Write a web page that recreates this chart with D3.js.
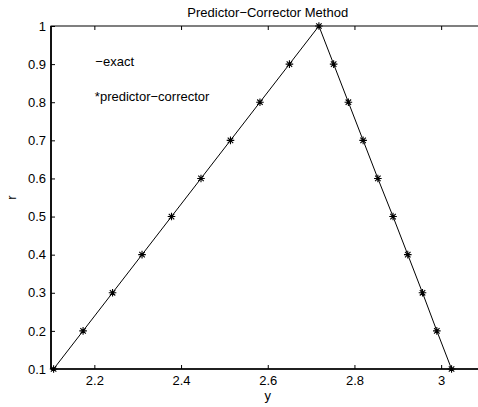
<!DOCTYPE html>
<html>
<head>
    <meta charset="utf-8" />
    <title></title>
    <style>
        body { margin: 0; background: #fff; }
        text {
            font-family: "Liberation Sans", Arial, sans-serif;
            font-size: 13px;
            fill: #000;
        }
        .axis path, .axis line { stroke: #000; }
    </style>
</head>
<body>
    <script src="https://d3js.org/d3.v7.min.js"></script>
    <script>
      // r values (vertical) and the matching y values on both sides of the peak
      var rValues = [0.1, 0.2, 0.3, 0.4, 0.5, 0.6, 0.7, 0.8, 0.9, 1.0, 0.9, 0.8, 0.7, 0.6, 0.5, 0.4, 0.3, 0.2, 0.1];
      var exactY = [2.106, 2.174, 2.242, 2.310, 2.378, 2.446, 2.514, 2.582, 2.650, 2.718,
                    2.752, 2.786, 2.820, 2.854, 2.889, 2.923, 2.957, 2.990, 3.024];
      var pcY    = [2.106, 2.174, 2.242, 2.310, 2.378, 2.446, 2.514, 2.582, 2.650, 2.718,
                    2.752, 2.786, 2.820, 2.854, 2.889, 2.923, 2.957, 2.990, 3.024];
      var xTicks = [2.2, 2.4, 2.6, 2.8, 3];
      var yTicks = [0.1, 0.2, 0.3, 0.4, 0.5, 0.6, 0.7, 0.8, 0.9, 1];

      var width = 478, height = 407;
      var plotL = 51, plotT = 26, plotR = 484.5, plotB = 369;

      var svg = d3.select("body").append("svg")
          .attr("width", width)
          .attr("height", height);

      var x = d3.scaleLinear().domain([2.1, 3.1]).range([plotL, plotR]);
      var y = d3.scaleLinear().domain([0.1, 1]).range([plotB, plotT]);

      var exact = rValues.map(function(r, i) { return {x: exactY[i], r: r}; });
      var pc = rValues.map(function(r, i) { return {x: pcY[i], r: r}; });

      // frame
      svg.append("rect")
          .attr("x", plotL).attr("y", plotT)
          .attr("width", plotR - plotL).attr("height", plotB - plotT)
          .attr("fill", "none").attr("stroke", "#000").attr("stroke-width", 1);

      var fmt = function(d) { return d3.format("")(+d.toFixed(1)); };

      svg.append("g").attr("class", "axis")
          .attr("transform", "translate(0," + plotB + ")")
          .call(d3.axisBottom(x).tickValues(xTicks).tickSize(-4).tickPadding(7).tickFormat(fmt))
          .call(function(g) { g.select(".domain").remove(); });

      svg.append("g").attr("class", "axis")
          .attr("transform", "translate(0," + plotT + ")")
          .call(d3.axisTop(x).tickValues(xTicks).tickSize(-4).tickFormat(""))
          .call(function(g) { g.select(".domain").remove(); });

      svg.append("g").attr("class", "axis")
          .attr("transform", "translate(" + plotL + ",0)")
          .call(d3.axisLeft(y).tickValues(yTicks).tickSize(-4).tickPadding(5).tickFormat(fmt))
          .call(function(g) { g.select(".domain").remove(); });

      svg.selectAll(".axis text").attr("font-size", 13)
          .style("font-family", "'Liberation Sans', Arial, sans-serif");

      // thicker left and bottom edges
      svg.append("line").attr("x1", plotL).attr("x2", plotL).attr("y1", plotT).attr("y2", plotB)
          .attr("stroke", "#000").attr("stroke-width", 1.7);
      svg.append("line").attr("x1", plotL).attr("x2", plotR).attr("y1", plotB).attr("y2", plotB)
          .attr("stroke", "#000").attr("stroke-width", 1.5);

      // exact solution line
      var line = d3.line().x(function(d) { return x(d.x); }).y(function(d) { return y(d.r); });
      svg.append("path")
          .datum(exact)
          .attr("d", line)
          .attr("fill", "none")
          .attr("stroke", "#000")
          .attr("stroke-width", 1);

      // asterisk markers
      var s = 3.8, t = s * 0.72;
      var star = "M" + (-s) + ",0H" + s + "M0," + (-s) + "V" + s +
                 "M" + (-t) + "," + (-t) + "L" + t + "," + t +
                 "M" + (-t) + "," + t + "L" + t + "," + (-t);
      svg.append("g").selectAll("path")
          .data(pc)
          .enter().append("path")
          .attr("transform", function(d) { return "translate(" + x(d.x) + "," + y(d.r) + ")"; })
          .attr("d", star)
          .attr("fill", "none")
          .attr("stroke", "#000")
          .attr("stroke-width", 1.1);

      // annotations
      svg.append("text").attr("x", x(2.2) + 1).attr("y", y(0.9) + 1.6)
          .text("\u2212exact");
      svg.append("text").attr("x", x(2.2) + 0.5).attr("y", y(0.8) - 1.2)
          .text("*predictor\u2212corrector");

      // title and labels
      svg.append("text").attr("x", (plotL + plotR) / 2).attr("y", 17)
          .attr("text-anchor", "middle")
          .text("Predictor\u2212Corrector Method");
      svg.append("text").attr("x", (plotL + plotR) / 2).attr("y", 400)
          .attr("text-anchor", "middle")
          .text("y");
      svg.append("text")
          .attr("transform", "translate(16," + ((plotT + plotB) / 2) + ") rotate(-90)")
          .attr("text-anchor", "middle")
          .text("r");
    </script>
</body>
</html>
